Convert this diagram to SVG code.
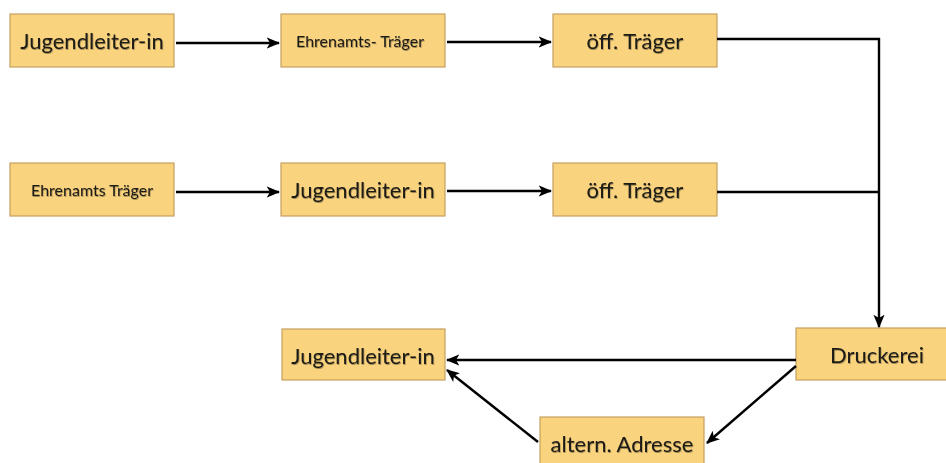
<svg xmlns="http://www.w3.org/2000/svg" width="946" height="463" viewBox="0 0 946 463">
  <defs>
    <marker id="arrow" viewBox="0 0 12 10" refX="11" refY="5" markerWidth="5.6" markerHeight="4.7" markerUnits="strokeWidth" orient="auto">
      <path d="M0,0 L12,5 L0,10 L3,5 z" fill="#000"/>
    </marker>
    <filter id="soft" x="-5%" y="-20%" width="110%" height="140%">
      <feDropShadow dx="0.6" dy="1" stdDeviation="0.7" flood-color="#000" flood-opacity="0.35"/>
    </filter>
  </defs>
  <style>
    .box { fill: #F9D37E; stroke: #C6A160; stroke-width: 1.2; }
    .lbl { font-family: "Lato", "Open Sans", "Liberation Sans", sans-serif; fill: #1c1a16; text-anchor: middle; filter: url(#soft); }
    .big { font-size: 22px; }
    .small { font-size: 16px; }
    .edge { fill: none; stroke: #000; stroke-width: 2.4; }
    .arr { marker-end: url(#arrow); }
  </style>
  <rect width="946" height="463" fill="#fff"/>

  <!-- row 1 -->
  <g id="n-jugend1">
    <rect class="box" x="10" y="14" width="164" height="53"/>
    <text class="lbl big" x="92" y="49">Jugendleiter-in</text>
  </g>
  <g id="n-ehren1">
    <rect class="box" x="281" y="14" width="164" height="53"/>
    <text class="lbl small" x="360" y="47">Ehrenamts- Träger</text>
  </g>
  <g id="n-oeff1">
    <rect class="box" x="553" y="14" width="164" height="53"/>
    <text class="lbl big" x="635" y="49">öff. Träger</text>
  </g>

  <!-- row 2 -->
  <g id="n-ehren2">
    <rect class="box" x="10" y="163" width="164" height="53"/>
    <text class="lbl small" x="92" y="196">Ehrenamts Träger</text>
  </g>
  <g id="n-jugend2">
    <rect class="box" x="281" y="163" width="164" height="53"/>
    <text class="lbl big" x="363" y="198">Jugendleiter-in</text>
  </g>
  <g id="n-oeff2">
    <rect class="box" x="553" y="163" width="164" height="53"/>
    <text class="lbl big" x="635" y="198">öff. Träger</text>
  </g>

  <!-- bottom -->
  <g id="n-jugend3">
    <rect class="box" x="282" y="329" width="163" height="51"/>
    <text class="lbl big" x="363" y="364">Jugendleiter-in</text>
  </g>
  <g id="n-druck">
    <rect class="box" x="796" y="328" width="164" height="52"/>
    <text class="lbl big" x="877" y="363">Druckerei</text>
  </g>
  <g id="n-altern">
    <rect class="box" x="540" y="417" width="164" height="53"/>
    <text class="lbl big" x="622" y="452">altern. Adresse</text>
  </g>

  <!-- connectors -->
  <g id="connectors">
    <line class="edge arr" x1="176" y1="43" x2="279" y2="43"/>
    <line class="edge arr" x1="447" y1="42" x2="551" y2="42"/>
    <line class="edge arr" x1="176" y1="192" x2="279" y2="192"/>
    <line class="edge arr" x1="447" y1="191" x2="551" y2="191"/>
    <polyline class="edge arr" points="717,39 879,39 879,327"/>
    <line class="edge" x1="717" y1="192" x2="879" y2="192"/>
    <line class="edge arr" x1="796" y1="360" x2="447" y2="360"/>
    <line class="edge arr" x1="796" y1="366" x2="707" y2="443"/>
    <line class="edge arr" x1="538" y1="442" x2="447" y2="370"/>
  </g>
</svg>
